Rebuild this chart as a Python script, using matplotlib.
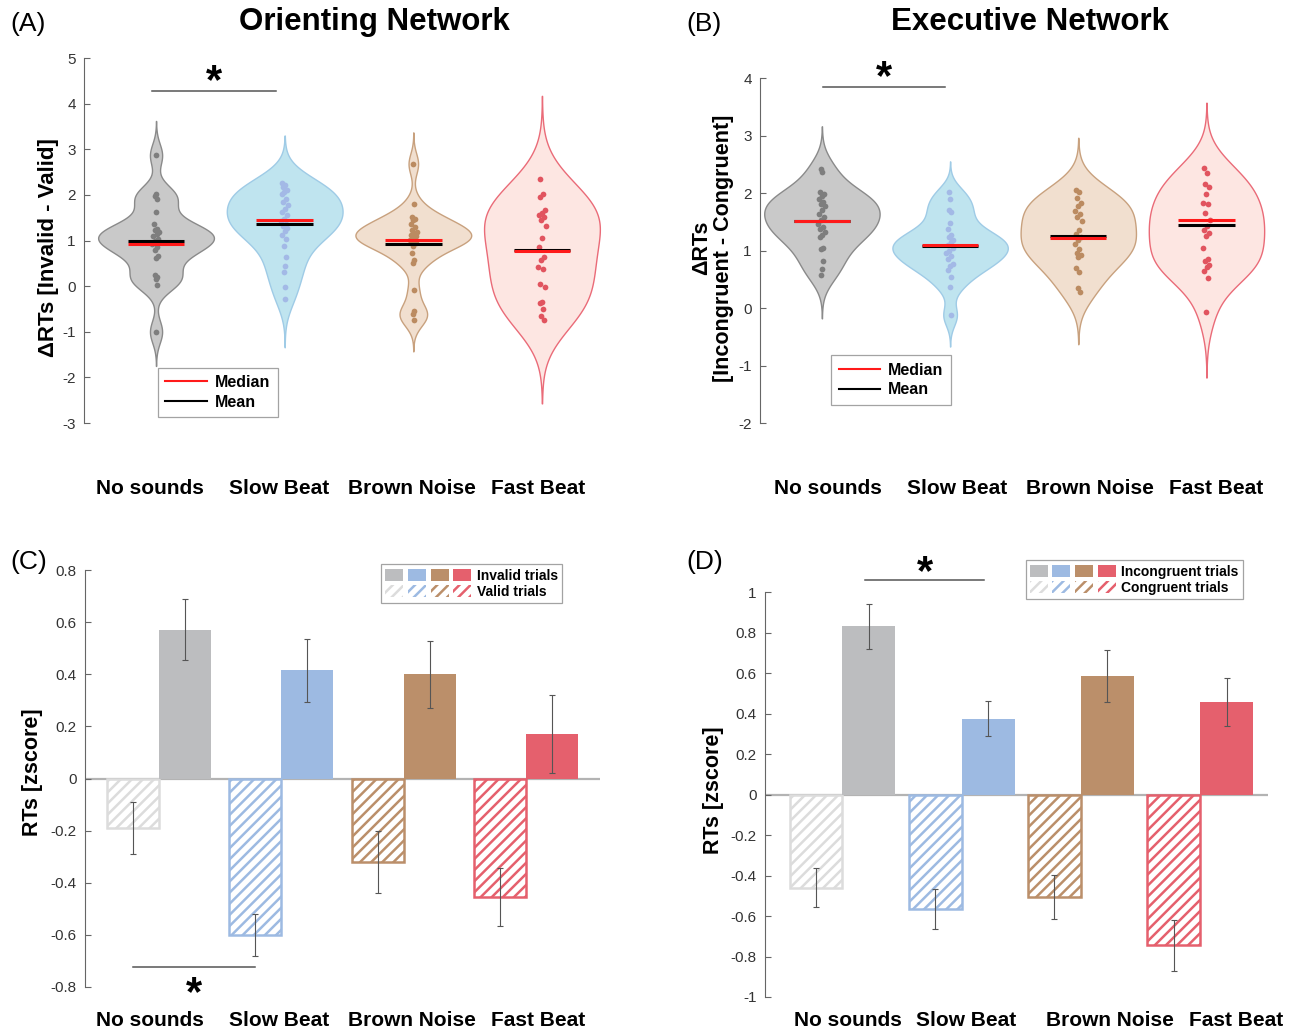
import numpy as np
import matplotlib
matplotlib.use('Agg')
import matplotlib.pyplot as plt
from matplotlib.lines import Line2D
from matplotlib.patches import Patch
from matplotlib.legend_handler import HandlerTuple
from matplotlib.ticker import FuncFormatter

plt.rcParams['font.family'] = ['Liberation Sans', 'DejaVu Sans']
plt.rcParams['hatch.linewidth'] = 1.8
plt.rcParams['axes.unicode_minus'] = False

conditions = ['No sounds', 'Slow Beat', 'Brown Noise', 'Fast Beat']

# (A) orienting network, delta RTs per subject
orient_points = [
    [2.87, 2.03, 1.97, 1.92, 1.63, 1.36, 1.25, 1.22, 1.18, 1.14, 1.10, 1.04,
     0.98, 0.92, 0.86, 0.80, 0.65, 0.62, 0.24, 0.19, 0.15, 0.02, -1.0],
    [2.25, 2.22, 2.17, 2.11, 2.07, 2.02, 1.92, 1.85, 1.78, 1.70, 1.63, 1.56,
     1.48, 1.43, 1.37, 1.32, 1.27, 1.21, 1.12, 1.04, 0.88, 0.63, 0.44, 0.30,
     -0.01, -0.29],
    [2.68, 1.80, 1.51, 1.48, 1.46, 1.37, 1.30, 1.24, 1.19, 1.14, 1.12, 1.10,
     1.05, 1.02, 1.00, 0.97, 0.94, 0.87, 0.73, 0.57, 0.51, -0.09, -0.55,
     -0.61, -0.74],
    [2.34, 2.01, 1.96, 1.67, 1.61, 1.56, 1.51, 1.45, 1.32, 1.06, 0.86, 0.63,
     0.57, 0.42, 0.38, 0.04, -0.01, -0.34, -0.38, -0.51, -0.66, -0.74],
]
orient_median = [0.93, 1.45, 1.02, 0.76]
orient_mean = [0.98, 1.365, 0.92, 0.79]
orient_bw = [0.25, 0.35, 0.23, 0.61]

# (B) executive network
exec_points = [
    [2.41, 2.37, 2.02, 1.98, 1.94, 1.89, 1.85, 1.81, 1.77, 1.71, 1.63, 1.59,
     1.53, 1.46, 1.41, 1.37, 1.33, 1.27, 1.23, 1.05, 1.02, 0.81, 0.68, 0.57],
    [2.01, 1.89, 1.71, 1.67, 1.47, 1.37, 1.27, 1.23, 1.18, 1.14, 1.10, 1.04,
     1.00, 0.95, 0.90, 0.86, 0.77, 0.73, 0.66, 0.54, 0.36, -0.13],
    [2.06, 2.01, 1.91, 1.82, 1.77, 1.68, 1.64, 1.59, 1.52, 1.36, 1.29, 1.23,
     1.18, 1.12, 1.02, 0.96, 0.92, 0.88, 0.69, 0.63, 0.34, 0.27],
    [2.43, 2.35, 2.15, 2.11, 1.98, 1.83, 1.81, 1.65, 1.53, 1.43, 1.36, 1.31,
     1.25, 1.04, 0.86, 0.82, 0.75, 0.72, 0.65, 0.53, -0.07],
]
exec_median = [1.52, 1.09, 1.22, 1.53]
exec_mean = [1.51, 1.08, 1.245, 1.44]
exec_bw = [0.25, 0.18, 0.30, 0.38]

# (C) / (D) z-scored RTs
orient_invalid = [0.57, 0.415, 0.40, 0.17]
orient_invalid_se = [0.117, 0.12, 0.128, 0.15]
orient_valid = [-0.19, -0.60, -0.32, -0.455]
orient_valid_se = [0.10, 0.08, 0.12, 0.112]
exec_incong = [0.83, 0.375, 0.585, 0.455]
exec_incong_se = [0.11, 0.088, 0.13, 0.118]
exec_cong = [-0.46, -0.565, -0.505, -0.745]
exec_cong_se = [0.095, 0.10, 0.108, 0.125]

violin_fill = ['#c9c9c9', '#bfe4ef', '#f1dfcf', '#fde6e2']
violin_edge = ['#8a8a8a', '#9fcbe6', '#c8a17e', '#ea6b78']
dot_color = ['#7e7e7e', '#a3b9e6', '#bb8b61', '#e1545f']
bar_color = ['#bcbdbf', '#9dbae2', '#bb8f6a', '#e5606d']
hatch_color = ['#dcdcdc', '#9dbae2', '#bb8f6a', '#e5606d']

W, H = 1293, 1032
fig = plt.figure(figsize=(W / 100, H / 100), dpi=100)


def style_axis(ax):
    for s in ['top', 'right', 'bottom']:
        ax.spines[s].set_visible(False)
    ax.spines['left'].set_color('#666666')
    ax.spines['left'].set_linewidth(0.8)
    ax.set_xticks([])
    ax.tick_params(axis='y', direction='in', length=4, color='#666666',
                   labelcolor='#333333', labelsize=11, pad=6)
    ax.yaxis.set_major_formatter(FuncFormatter(lambda v, _: f'{round(v, 2) + 0.0:g}'))


def cat_labels(spine_px, offsets_px, y_px):
    # condition names sit under each panel as plain text
    for dx, name in zip(offsets_px, conditions):
        fig.text((spine_px + dx) / W, 1 - y_px / H, name, ha='center', va='center',
                 fontsize=15, fontweight='bold')


def sig(ax, x0, x1, y, ys):
    ax.plot([x0, x1], [y, y], color='#555555', lw=1.1, clip_on=False)
    ax.text((x0 + x1) / 2, ys, '*', ha='center', va='center', fontsize=30,
            fontweight='bold', clip_on=False)


def violins(ax, groups, bws, med, mean):
    for i, (vals, bw) in enumerate(zip(groups, bws)):
        pos = i + 1
        v = np.asarray(vals, dtype=float)
        grid = np.linspace(v.min() - 3 * bw, v.max() + 3 * bw, 400)
        dens = np.exp(-0.5 * ((grid[:, None] - v[None, :]) / bw) ** 2).sum(1)
        half = 0.45 * dens / dens.max()
        ax.fill_betweenx(grid, pos - half, pos + half, facecolor=violin_fill[i],
                         edgecolor=violin_edge[i], lw=1.0, zorder=1)
        dv = np.interp(v, grid, half)
        spread = ((np.arange(len(v)) * 0.618034) % 1) * 2 - 1
        ax.scatter(pos + spread * 0.07 * dv, v, s=17, color=dot_color[i],
                   lw=0, zorder=3)
        ax.plot([pos - 0.22, pos + 0.22], [mean[i]] * 2, color='black', lw=2.2,
                zorder=4, solid_capstyle='butt')
        ax.plot([pos - 0.22, pos + 0.22], [med[i]] * 2, color='#ff1a1a', lw=2.2,
                zorder=5, solid_capstyle='butt')
    handles = [Line2D([], [], color='#ff1a1a', lw=1.5),
               Line2D([], [], color='black', lw=1.5)]
    return handles


def bars(ax, hatched, hatched_se, solid, solid_se, w):
    pos = np.arange(1, 5)
    ax.axhline(0, color='#b3b3b3', lw=1.6, zorder=1)
    for i in range(4):
        ax.bar(pos[i] - w / 2, hatched[i], w, facecolor='white',
               edgecolor=hatch_color[i], hatch='///', lw=1.8, zorder=2)
        ax.bar(pos[i] + w / 2, solid[i], w, color=bar_color[i], lw=0, zorder=2)
    ax.errorbar(pos - w / 2, hatched, yerr=hatched_se, fmt='none',
                ecolor='#555555', elinewidth=0.8, capsize=2, capthick=0.8, zorder=3)
    ax.errorbar(pos + w / 2, solid, yerr=solid_se, fmt='none',
                ecolor='#555555', elinewidth=0.8, capsize=2, capthick=0.8, zorder=3)
    solid_h = tuple(Patch(facecolor=c, edgecolor='none') for c in bar_color)
    hatch_h = tuple(Patch(facecolor='white', edgecolor=c, hatch='///', lw=0)
                    for c in hatch_color)
    return solid_h, hatch_h


leg_kw = dict(fancybox=False, edgecolor='#8c8c8c')

# ---- (A)
axA = fig.add_axes([84 / W, 1 - 423 / H, 530 / W, 365 / H])
style_axis(axA)
hA = violins(axA, orient_points, orient_bw, orient_median, orient_mean)
axA.set_xlim(0.44, 4.56)
axA.set_ylim(-3, 5)
axA.set_yticks(np.arange(-3, 6, 1))
axA.set_ylabel('ΔRTs [Invalid - Valid]', fontsize=16, fontweight='bold')
axA.yaxis.set_label_coords(-0.047, 0.48)
cat_labels(84, [66, 195, 328, 454], 489)
sig(axA, 0.97, 1.93, 4.27, 4.48)
legA = axA.legend(hA, ['Median', 'Mean'], loc='lower left',
                  bbox_to_anchor=(0.125, -0.005), prop={'size': 11.5, 'weight': 'bold'},
                  handlelength=2.6, borderpad=0.45, labelspacing=0.3,
                  handletextpad=0.5, **leg_kw)
legA.get_frame().set_linewidth(0.9)

# ---- (B)
axB = fig.add_axes([760 / W, 1 - 423 / H, 508 / W, 345 / H])
style_axis(axB)
hB = violins(axB, exec_points, exec_bw, exec_median, exec_mean)
axB.set_xlim(0.517, 4.48)
axB.set_ylim(-2, 4)
axB.set_yticks(np.arange(-2, 5, 1))
axB.set_ylabel('ΔRTs\n[Incongruent - Congruent]', fontsize=15.5, fontweight='bold',
               linespacing=1.05)
axB.yaxis.set_label_coords(-0.052, 0.507)
cat_labels(760, [68, 197, 330, 456], 489)
sig(axB, 1.01, 1.96, 3.84, 4.0)
legB = axB.legend(hB, ['Median', 'Mean'], loc='lower left',
                  bbox_to_anchor=(0.125, 0.03), prop={'size': 11.5, 'weight': 'bold'},
                  handlelength=2.6, borderpad=0.45, labelspacing=0.3,
                  handletextpad=0.5, **leg_kw)
legB.get_frame().set_linewidth(0.9)

# ---- (C)
axC = fig.add_axes([85 / W, 1 - 987 / H, 515 / W, 417 / H])
style_axis(axC)
sC, hC = bars(axC, orient_valid, orient_valid_se, orient_invalid, orient_invalid_se, 0.424)
axC.set_xlim(0.4, 4.6)
axC.set_ylim(-0.8, 0.8)
axC.set_yticks(np.arange(-0.8, 0.81, 0.2))
axC.set_ylabel('RTs [zscore]', fontsize=15.5, fontweight='bold')
axC.yaxis.set_label_coords(-0.082, 0.515)
cat_labels(85, [65, 194, 327, 453], 1020)
sig(axC, 0.79, 1.785, -0.725, -0.827)
legC = axC.legend([sC, hC], ['Invalid trials', 'Valid trials'], loc='upper right',
                  bbox_to_anchor=(0.94, 1.03),
                  handler_map={tuple: HandlerTuple(ndivide=None, pad=0.35)},
                  prop={'size': 10, 'weight': 'bold'}, handlelength=6.2,
                  handleheight=1.0, borderpad=0.3, labelspacing=0.15,
                  handletextpad=0.4, **leg_kw)
legC.get_frame().set_linewidth(0.9)

# ---- (D)
axD = fig.add_axes([765 / W, 1 - 997 / H, 503 / W, 405 / H])
style_axis(axD)
sD, hD = bars(axD, exec_cong, exec_cong_se, exec_incong, exec_incong_se, 0.444)
axD.set_xlim(0.35, 4.57)
axD.set_ylim(-1, 1)
axD.set_yticks(np.arange(-1, 1.01, 0.2))
axD.set_ylabel('RTs [zscore]', fontsize=15.5, fontweight='bold')
axD.yaxis.set_label_coords(-0.0815, 0.51)
cat_labels(765, [83, 201, 345, 471], 1020)
sig(axD, 1.19, 2.19, 1.057, 1.095)
legD = axD.legend([sD, hD], ['Incongruent trials', 'Congruent trials'], loc='upper right',
                  bbox_to_anchor=(0.964, 1.095),
                  handler_map={tuple: HandlerTuple(ndivide=None, pad=0.35)},
                  prop={'size': 10, 'weight': 'bold'}, handlelength=6.2,
                  handleheight=1.0, borderpad=0.3, labelspacing=0.15,
                  handletextpad=0.4, **leg_kw)
legD.get_frame().set_linewidth(0.9)

# titles and panel letters
fig.text(374 / W, 1 - 22 / H, 'Orienting Network', ha='center', va='center',
         fontsize=22.5, fontweight='bold')
fig.text(1030 / W, 1 - 22 / H, 'Executive Network', ha='center', va='center',
         fontsize=22.5, fontweight='bold')
for x, y, lab in [(10, 24, '(A)'), (686, 24, '(B)'), (10, 562, '(C)'), (686, 562, '(D)')]:
    fig.text(x / W, 1 - y / H, lab, ha='left', va='center', fontsize=19)

fig.savefig('out.png', dpi=100)
